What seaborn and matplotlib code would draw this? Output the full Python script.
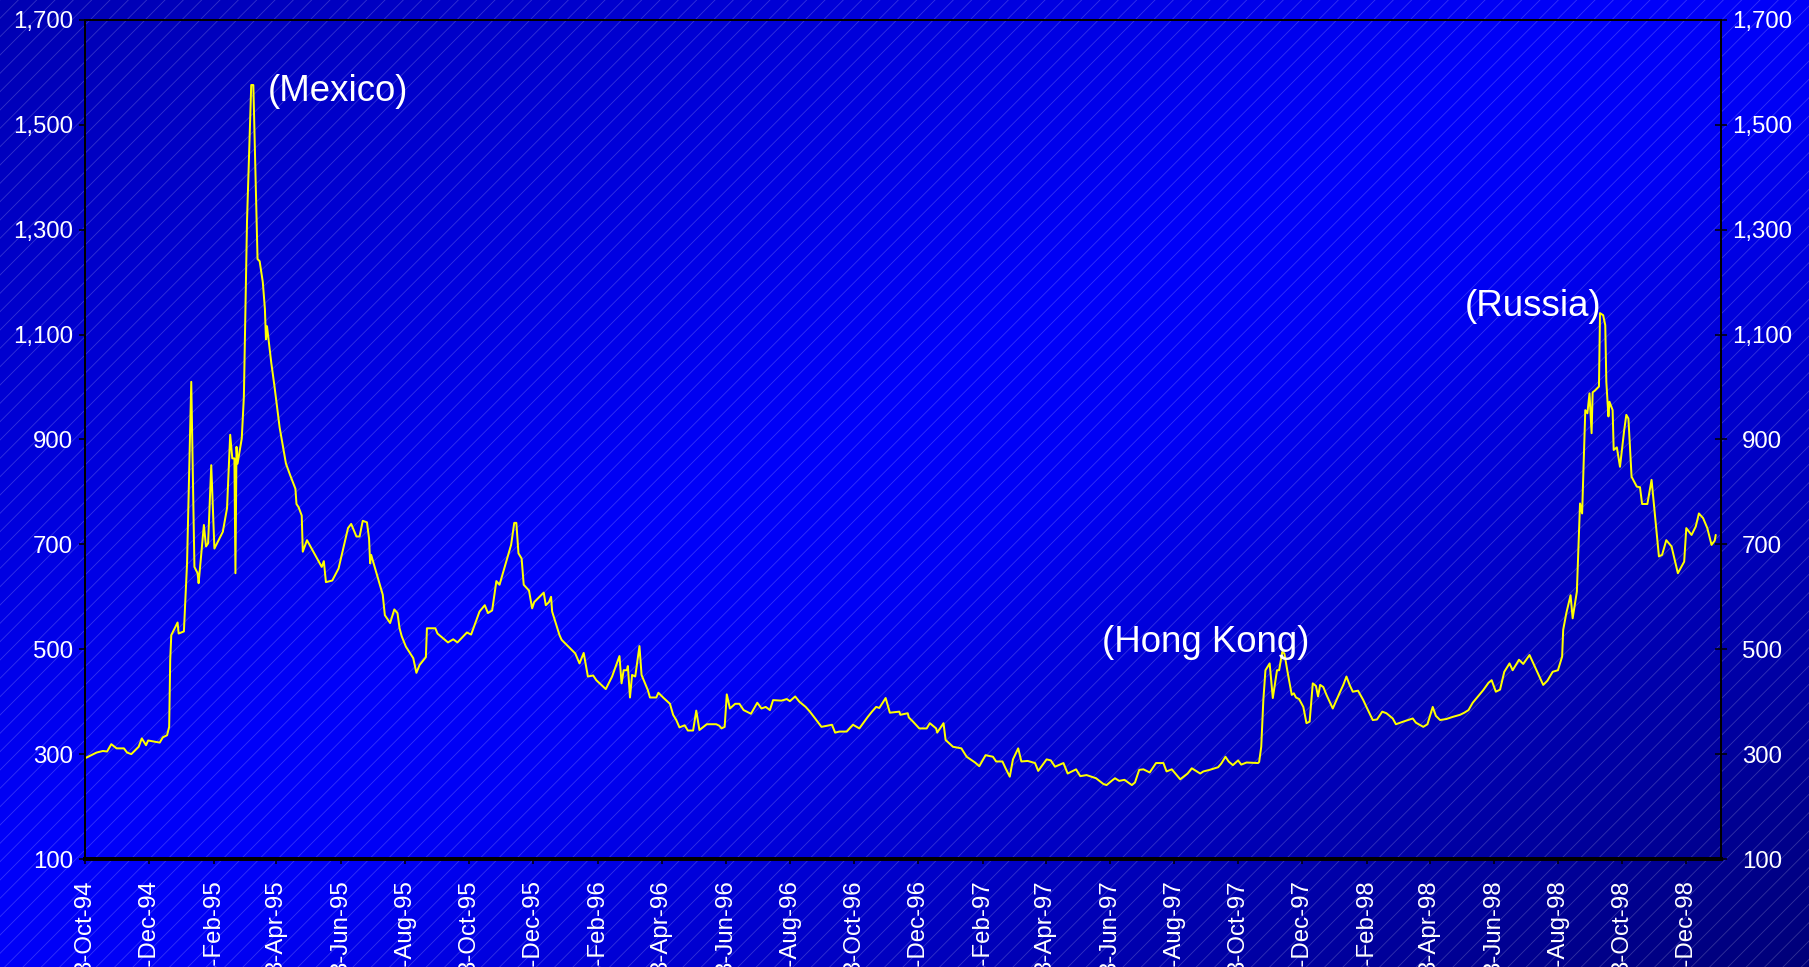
import numpy as np
import pandas as pd
import matplotlib
matplotlib.use("Agg")
import matplotlib.pyplot as plt
from matplotlib.patches import Rectangle
from matplotlib.ticker import FuncFormatter
import seaborn as sns

# ---- data: spread level (bp) by day offset from the first observation ----
start_date = "1994-10-03"
day_offsets = [
    0, 11, 17, 21, 25, 30, 37, 40, 44, 51, 54, 58, 60, 71, 74, 78, 80, 81, 82, 88,
    89, 94, 97, 101, 104, 107, 108, 113, 115, 117, 120, 123, 131, 135, 138, 140, 142, 143, 144, 145,
    149, 151, 154, 158, 160, 163, 164, 166, 169, 171, 172, 173, 177, 180, 185, 191, 195, 200, 201, 203,
    206, 207, 211, 225, 227, 229, 235, 241, 250, 253, 258, 261, 264, 268, 270, 271, 272, 283, 285, 290,
    294, 297, 299, 301, 305, 312, 315, 318, 324, 325, 333, 335, 345, 350, 354, 363, 367, 375, 380, 383,
    387, 391, 394, 405, 408, 410, 412, 415, 417, 422, 425, 427, 436, 438, 441, 443, 444, 451, 453, 466,
    470, 474, 478, 483, 486, 495, 501, 505, 508, 510, 512, 515, 516, 518, 520, 523, 527, 529, 535, 537,
    543, 545, 550, 556, 559, 562, 565, 570, 573, 578, 581, 584, 591, 600, 603, 605, 608, 610, 613, 618,
    622, 626, 633, 639, 643, 647, 651, 654, 662, 667, 670, 675, 679, 685, 689, 694, 700, 710, 713, 717,
    724, 730, 736, 744, 748, 752, 755, 761, 765, 774, 775, 782, 783, 787, 793, 800, 803, 809, 810, 816,
    818, 825, 833, 838, 846, 850, 856, 863, 866, 872, 875, 879, 882, 887, 890, 896, 903, 906, 914, 918,
    922, 930, 934, 942, 946, 952, 961, 968, 971, 977, 979, 983, 988, 995, 998, 1002, 1006, 1012, 1018, 1025,
    1028, 1033, 1041, 1048, 1052, 1060, 1063, 1069, 1077, 1080, 1084, 1087, 1091, 1096, 1099, 1104, 1115, 1116, 1118, 1120,
    1122, 1126, 1129, 1133, 1135, 1138, 1140, 1143, 1147, 1149, 1151, 1154, 1158, 1161, 1164, 1167, 1170, 1172, 1174, 1177,
    1180, 1186, 1193, 1196, 1199, 1202, 1205, 1210, 1215, 1218, 1224, 1228, 1233, 1237, 1243, 1246, 1253, 1262, 1265, 1272,
    1276, 1281, 1284, 1288, 1294, 1300, 1307, 1311, 1315, 1319, 1324, 1329, 1334, 1337, 1341, 1345, 1349, 1354, 1357, 1363,
    1367, 1373, 1378, 1386, 1390, 1395, 1400, 1404, 1405, 1408, 1412, 1414, 1418, 1421, 1423, 1426, 1428, 1430, 1432, 1433,
    1435, 1439, 1440, 1443, 1445, 1446, 1448, 1449, 1452, 1453, 1456, 1459, 1463, 1465, 1467, 1470, 1475, 1478, 1480, 1485,
    1489, 1493, 1496, 1499, 1503, 1508, 1514, 1520, 1522, 1527, 1531, 1534, 1538, 1542, 1546, 1549, 1550,
]
spread_bp = [
    292, 303, 306, 305, 319, 311, 311, 303, 300, 314, 330, 317, 326, 322, 332, 336, 352, 480, 527, 551,
    530, 534, 664, 1010, 657, 645, 626, 737, 696, 702, 851, 692, 724, 769, 909, 864, 864, 645, 886, 854,
    902, 981, 1317, 1576, 1576, 1332, 1244, 1240, 1200, 1149, 1091, 1116, 1047, 1003, 923, 854, 832, 806, 777, 771,
    755, 686, 708, 657, 668, 628, 631, 654, 731, 739, 715, 715, 745, 742, 711, 664, 680, 604, 565, 550,
    576, 569, 540, 525, 505, 483, 455, 470, 485, 540, 540, 530, 513, 519, 513, 532, 528, 572, 584, 569,
    574, 630, 623, 699, 741, 741, 683, 673, 623, 612, 578, 590, 608, 584, 590, 600, 572, 527, 518, 492,
    473, 493, 448, 450, 441, 424, 448, 470, 487, 435, 460, 460, 468, 408, 451, 448, 506, 451, 422, 408,
    408, 417, 407, 396, 375, 365, 351, 355, 345, 345, 383, 346, 357, 357, 354, 349, 352, 414, 387, 396,
    396, 384, 377, 398, 387, 390, 384, 403, 402, 405, 401, 410, 400, 390, 381, 368, 352, 356, 341, 343,
    343, 356, 349, 371, 381, 390, 388, 407, 379, 381, 375, 378, 370, 362, 349, 349, 359, 349, 341, 359,
    327, 314, 311, 295, 284, 277, 298, 295, 286, 286, 273, 257, 290, 311, 286, 287, 283, 268, 290, 288,
    276, 283, 263, 271, 258, 260, 254, 243, 241, 251, 254, 249, 251, 241, 246, 270, 271, 265, 283, 283,
    267, 271, 252, 263, 273, 263, 267, 270, 275, 282, 295, 286, 279, 288, 280, 284, 283, 285, 314, 403,
    460, 473, 407, 460, 460, 495, 492, 457, 413, 416, 408, 405, 390, 359, 362, 435, 430, 410, 432, 428,
    413, 387, 419, 432, 448, 432, 419, 421, 403, 390, 365, 366, 381, 378, 368, 357, 362, 368, 360, 352,
    357, 390, 373, 365, 367, 371, 375, 379, 384, 398, 410, 422, 436, 441, 419, 423, 457, 473, 460, 480,
    472, 489, 467, 432, 440, 457, 460, 486, 537, 569, 603, 559, 610, 778, 759, 956, 950, 988, 912, 990,
    993, 1001, 1141, 1137, 1118, 1010, 944, 972, 956, 880, 885, 848, 918, 947, 940, 829, 810, 809, 777, 777,
    823, 740, 677, 680, 708, 696, 645, 667, 731, 718, 734, 759, 750, 731, 699, 707, 718,
]

tick_labels = [
    "3-Oct-94", "3-Dec-94", "3-Feb-95", "3-Apr-95", "3-Jun-95", "3-Aug-95", "3-Oct-95",
    "3-Dec-95", "3-Feb-96", "3-Apr-96", "3-Jun-96", "3-Aug-96", "3-Oct-96", "3-Dec-96",
    "3-Feb-97", "3-Apr-97", "3-Jun-97", "3-Aug-97", "3-Oct-97", "3-Dec-97", "3-Feb-98",
    "3-Apr-98", "3-Jun-98", "3-Aug-98", "3-Oct-98", "3-Dec-98",
]
y_ticks = [100, 300, 500, 700, 900, 1100, 1300, 1500, 1700]

event_names = ["(Mexico)", "(Hong Kong)", "(Russia)"]
event_days = [174, 967, 1311]
event_levels = [1563, 512, 1153]

# ---- figure setup ----
DPI = 110
W, H = 1809, 967
sns.set_theme(style="ticks")
plt.rcParams["font.family"] = ["Liberation Sans", "DejaVu Sans"]
plt.rcParams["hatch.linewidth"] = 0.55

fig = plt.figure(figsize=(W / DPI, H / DPI), dpi=DPI)

# diagonal blue gradient background with fine light stripes
bg = fig.add_axes([0, 0, 1, 1], zorder=0)
bg.set_axis_off()
yy, xx = np.mgrid[0:1:300j, 0:1:300j]
t = (xx + yy) / 2.0
blue = np.interp(t, [0.0, 0.45, 0.55, 1.0], [178, 250, 245, 120]) / 255.0
img = np.zeros((300, 300, 3))
img[..., 2] = blue
bg.imshow(img, extent=[0, 1, 0, 1], aspect="auto", origin="upper",
          interpolation="bilinear")
bg.add_patch(Rectangle((0, 0), 1, 1, transform=bg.transAxes, facecolor="none",
                       edgecolor=(1, 1, 1, 0.2), hatch="//", linewidth=0))
bg.set_xlim(0, 1)
bg.set_ylim(0, 1)

ax = fig.add_axes([85 / W, 1 - 859 / H, (1721 - 85) / W, (859 - 20) / H], zorder=1)
ax.set_facecolor("none")

start = pd.Timestamp(start_date)
df = pd.DataFrame({
    "date": start + pd.to_timedelta(day_offsets, unit="D"),
    "spread": spread_bp,
})
sns.lineplot(data=df, x="date", y="spread", color="#ffff00", linewidth=1.3,
             estimator=None, ax=ax)

ax.set_xlim(start, start + pd.Timedelta(days=1555))
ax.set_ylim(100, 1700)
ax.set_xlabel("")
ax.set_ylabel("")

tick_dates = pd.to_datetime(tick_labels, format="%d-%b-%y")
ax.set_xticks(tick_dates)
ax.set_xticklabels(tick_labels, rotation=90)
ax.set_yticks(y_ticks)
comma = FuncFormatter(lambda v, p: f"{int(v):,}")
ax.yaxis.set_major_formatter(comma)

label_size = 15.7
ax.tick_params(axis="x", direction="out", length=3.4, width=1.0, color="black",
               labelcolor="white", labelsize=label_size, pad=10.5)
ax.tick_params(axis="y", direction="out", length=4.0, width=1.0, color="black",
               labelcolor="white", labelsize=label_size, pad=4.0)

for side in ["left", "top"]:
    ax.spines[side].set_linewidth(1.3)
    ax.spines[side].set_color("black")
ax.spines["bottom"].set_linewidth(2.6)
ax.spines["bottom"].set_color("black")
ax.spines["right"].set_visible(False)

# mirrored value axis on the right
ax2 = ax.twinx()
ax2.set_ylim(100, 1700)
ax2.set_yticks(y_ticks)
ax2.yaxis.set_major_formatter(comma)
ax2.tick_params(axis="y", direction="inout", length=7.9, width=1.0, color="black",
                labelcolor="white", labelsize=label_size, pad=22.9)
for lbl in ax2.get_yticklabels():
    lbl.set_horizontalalignment("center")
for side in ["left", "top", "bottom"]:
    ax2.spines[side].set_visible(False)
ax2.spines["right"].set_linewidth(1.3)
ax2.spines["right"].set_color("black")

# crisis labels
for name, d, lvl in zip(event_names, event_days, event_levels):
    ax.text(start + pd.Timedelta(days=d), lvl, name, color="white", fontsize=24,
            ha="left", va="center")

fig.savefig("out.png", dpi=DPI)
